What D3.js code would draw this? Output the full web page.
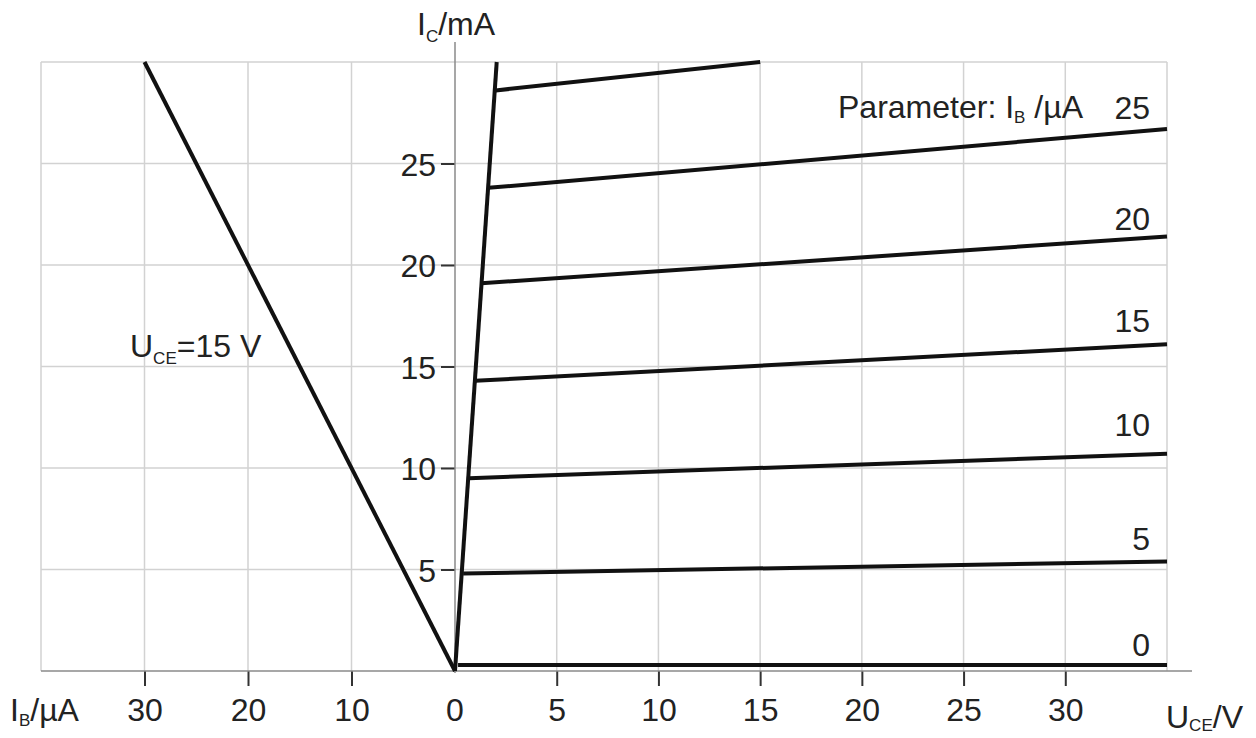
<!DOCTYPE html>
<html>
<meta charset="utf-8">
<head>
<script src="https://d3js.org/d3.v7.min.js"></script>
<style>
body { margin: 0; background: #fff; }
text { font-family: "Liberation Sans", Arial, sans-serif; fill: #222; }
</style>
</head>
<body>
<div id="chart"></div>
<script>
// base current (µA) for each output curve
var ibParam = [0, 5, 10, 15, 20, 25, 30];
// where each curve leaves the saturation line (Uce in V, Ic in mA)
var uceStart = [0.15, 0.4, 0.7, 1.0, 1.3, 1.65, 2.0];
var icStart = [0.3, 4.8, 9.5, 14.3, 19.1, 23.8, 28.6];
// right-hand end of each curve
var uceEnd = [35, 35, 35, 35, 35, 35, 15];
var icEnd = [0.3, 5.4, 10.7, 16.1, 21.4, 26.7, 30];
// height (mA) of the parameter label written above each curve
var labelIc = [0.75, 5.95, 11.6, 16.7, 21.7, 27.2];
// saturation boundary
var satUce = [0, 2.05];
var satIc = [0, 30];
// current transfer line at Uce = 15 V (Ib in µA, Ic in mA)
var transIb = [0, 30];
var transIc = [0, 30];
// grid and tick values
var uceGrid = [5, 10, 15, 20, 25, 30, 35];
var ibGrid = [10, 20, 30, 40];
var icGrid = [5, 10, 15, 20, 25, 30];
var uceTicks = [5, 10, 15, 20, 25, 30];
var ibTicks = [30, 20, 10];
var icTicks = [5, 10, 15, 20, 25];

var width = 1256, height = 738;
var fs = "32px";

var svg = d3.select("#chart").append("svg")
    .attr("width", width)
    .attr("height", height);

// right quadrant: output characteristic, left quadrant: transfer characteristic
var xU = d3.scaleLinear().domain([0, 35]).range([455, 1167]);
var xI = d3.scaleLinear().domain([0, 40]).range([455, 41]);
var y = d3.scaleLinear().domain([0, 30]).range([671, 62]);

// grid
var grid = svg.append("g").attr("stroke", "#d2d2d2").attr("stroke-width", 1.5);
grid.selectAll("line.h").data(icGrid).enter().append("line")
    .attr("x1", xI(40)).attr("x2", xU(35))
    .attr("y1", function(d) { return y(d); })
    .attr("y2", function(d) { return y(d); });
grid.selectAll("line.vu").data(uceGrid).enter().append("line")
    .attr("x1", function(d) { return xU(d); })
    .attr("x2", function(d) { return xU(d); })
    .attr("y1", y(0)).attr("y2", y(30));
grid.selectAll("line.vi").data(ibGrid).enter().append("line")
    .attr("x1", function(d) { return xI(d); })
    .attr("x2", function(d) { return xI(d); })
    .attr("y1", y(0)).attr("y2", y(30));

// axes (d3 axes for the ticks and labels)
var axU = svg.append("g")
    .attr("transform", "translate(0," + y(0) + ")")
    .call(d3.axisBottom(xU).tickValues(uceTicks).tickSize(15).tickPadding(12));
var axI = svg.append("g")
    .attr("transform", "translate(0," + y(0) + ")")
    .call(d3.axisBottom(xI).tickValues(ibTicks).tickSize(15).tickPadding(12));
var axY = svg.append("g")
    .attr("transform", "translate(" + xU(0) + ",0)")
    .call(d3.axisLeft(y).tickValues(icTicks).tickSize(14).tickPadding(5));

[axU, axI, axY].forEach(function(a) {
  a.select(".domain").remove();
  a.selectAll(".tick line").attr("stroke", "#333").attr("stroke-width", 2);
  a.selectAll(".tick text")
    .attr("fill", "#222")
    .style("font-size", fs)
    .style("font-family", "'Liberation Sans', Arial, sans-serif");
});
axY.selectAll(".tick text").attr("dy", "0.36em");
axU.selectAll(".tick text").attr("dy", "0.71em");
axI.selectAll(".tick text").attr("dy", "0.71em");
// the 0 label under the origin
svg.append("text")
    .attr("x", xU(0)).attr("y", 721)
    .attr("text-anchor", "middle")
    .style("font-size", fs)
    .text("0");

// axis lines
svg.append("line")
    .attr("x1", xI(40)).attr("x2", 1192)
    .attr("y1", y(0)).attr("y2", y(0))
    .attr("stroke", "#8a8a8a").attr("stroke-width", 1.5);
svg.append("line")
    .attr("x1", xU(0)).attr("x2", xU(0))
    .attr("y1", 42).attr("y2", y(0) + 2)
    .attr("stroke", "#8a8a8a").attr("stroke-width", 1.5);

// curves
var line = d3.line();
var curves = ibParam.map(function(ib, i) {
  return [[xU(uceStart[i]), y(icStart[i])], [xU(uceEnd[i]), y(icEnd[i])]];
});
svg.selectAll("path.curve").data(curves).enter().append("path")
    .attr("class", "curve")
    .attr("d", line)
    .attr("fill", "none")
    .attr("stroke", "#111")
    .attr("stroke-width", 4);

svg.append("path")
    .attr("d", line(satUce.map(function(u, i) { return [xU(u), y(satIc[i])]; })))
    .attr("fill", "none").attr("stroke", "#111").attr("stroke-width", 4);

svg.append("path")
    .attr("d", line(transIb.map(function(b, i) { return [xI(b), y(transIc[i])]; })))
    .attr("fill", "none").attr("stroke", "#111").attr("stroke-width", 4);

// curve parameter labels
svg.selectAll("text.ib").data(labelIc).enter().append("text")
    .attr("class", "ib")
    .attr("x", 1150)
    .attr("y", function(d) { return y(d); })
    .attr("text-anchor", "end")
    .style("font-size", fs)
    .text(function(d, i) { return ibParam[i]; });

// text with a subscript
function subLabel(x, yy, main, sub, rest, subDy) {
  var t = svg.append("text")
      .attr("x", x).attr("y", yy)
      .style("font-size", fs);
  t.append("tspan").text(main);
  t.append("tspan").attr("dy", subDy).style("font-size", "17px").text(sub);
  t.append("tspan").attr("dy", -subDy).text(rest);
  return t;
}

subLabel(417, 35, "I", "C", "/mA", 7);
subLabel(10, 721, "I", "B", "/µA", 5);
subLabel(1166, 728, "U", "CE", "/V", 3);
subLabel(130, 357, "U", "CE", "=15 V", 7);
subLabel(838, 118, "Parameter: I", "B", " /µA", 5);
</script>
</body>
</html>
